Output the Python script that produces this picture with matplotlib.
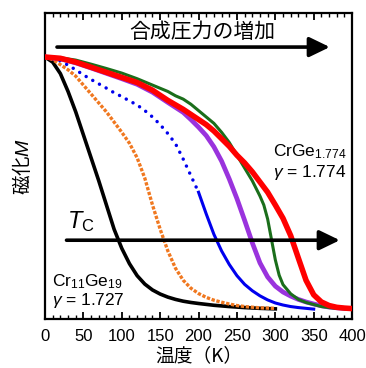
import matplotlib
matplotlib.use("Agg")
import matplotlib.pyplot as plt
import numpy as np
from matplotlib.ticker import MultipleLocator

plt.rcParams['font.family'] = ['Liberation Sans', 'Noto Sans CJK JP', 'DejaVu Sans']
plt.rcParams['mathtext.fontset'] = 'custom'
plt.rcParams['mathtext.rm'] = 'Liberation Sans'
plt.rcParams['mathtext.it'] = 'Liberation Sans:italic'
plt.rcParams['mathtext.bf'] = 'Liberation Sans:bold'

# ---- data (normalized magnetization vs temperature) ----
T_black = [0, 10, 20, 30, 40, 50, 60, 70, 80, 90, 100, 110, 120, 130, 140, 150, 160, 170, 180, 190, 200, 220, 240, 260, 280, 300]
M_black = [1.0, 0.98, 0.935, 0.865, 0.785, 0.695, 0.605, 0.515, 0.42, 0.325, 0.25, 0.19, 0.143, 0.11, 0.087, 0.071, 0.059, 0.05, 0.043, 0.038, 0.034, 0.027, 0.022, 0.018, 0.015, 0.013]

T_orange = [0, 10, 20, 30, 40, 50, 60, 70, 80, 90, 100, 110, 120, 130, 140, 150, 160, 170, 180, 190, 200, 210, 220, 230, 240, 250, 260, 280, 300]
M_orange = [1.0, 0.99, 0.97, 0.95, 0.925, 0.89, 0.855, 0.82, 0.785, 0.745, 0.705, 0.662, 0.605, 0.525, 0.42, 0.325, 0.24, 0.172, 0.125, 0.094, 0.073, 0.058, 0.047, 0.039, 0.032, 0.026, 0.022, 0.017, 0.015]

T_blue = [0, 10, 20, 30, 40, 50, 60, 70, 80, 90, 100, 110, 120, 130, 140, 150, 160, 170, 180, 190, 200, 210, 220, 230, 240, 250, 260, 270, 280, 290, 300, 310, 320, 330, 340, 350]
M_blue = [1.0, 0.995, 0.985, 0.968, 0.95, 0.93, 0.912, 0.895, 0.878, 0.86, 0.845, 0.828, 0.812, 0.79, 0.765, 0.735, 0.70, 0.66, 0.60, 0.535, 0.47, 0.385, 0.305, 0.24, 0.187, 0.143, 0.109, 0.084, 0.064, 0.048, 0.036, 0.028, 0.022, 0.018, 0.015, 0.012]
T_blue_split = 200

T_purple = [0, 20, 40, 60, 80, 100, 120, 140, 160, 180, 190, 200, 210, 220, 230, 240, 250, 260, 270, 280, 290, 300, 310, 320, 330, 340, 350, 360, 370, 380, 390]
M_purple = [1.0, 0.993, 0.977, 0.957, 0.936, 0.915, 0.893, 0.862, 0.822, 0.783, 0.755, 0.725, 0.692, 0.648, 0.592, 0.522, 0.445, 0.36, 0.272, 0.193, 0.138, 0.102, 0.079, 0.063, 0.05, 0.04, 0.032, 0.025, 0.02, 0.017, 0.015]

T_green = [0, 20, 40, 60, 80, 100, 120, 140, 160, 170, 180, 190, 200, 210, 220, 230, 240, 250, 260, 270, 280, 285, 290, 295, 300, 305, 310, 320, 330, 340, 350, 360, 370, 380, 400]
M_green = [1.0, 0.997, 0.988, 0.972, 0.955, 0.937, 0.915, 0.89, 0.865, 0.848, 0.835, 0.815, 0.79, 0.765, 0.74, 0.705, 0.665, 0.615, 0.565, 0.515, 0.455, 0.42, 0.365, 0.285, 0.205, 0.145, 0.108, 0.072, 0.05, 0.038, 0.03, 0.022, 0.018, 0.015, 0.012]

T_red = [0, 20, 40, 60, 80, 100, 120, 140, 160, 180, 200, 210, 220, 230, 240, 250, 260, 270, 280, 290, 300, 310, 320, 330, 340, 350, 360, 370, 380, 390, 400]
M_red = [1.0, 0.995, 0.98, 0.96, 0.94, 0.92, 0.90, 0.87, 0.83, 0.795, 0.755, 0.735, 0.71, 0.68, 0.65, 0.615, 0.585, 0.55, 0.51, 0.47, 0.42, 0.368, 0.3, 0.212, 0.125, 0.068, 0.04, 0.026, 0.019, 0.016, 0.014]

x_ticks = [0, 50, 100, 150, 200, 250, 300, 350, 400]

fig = plt.figure(figsize=(3.66, 3.68), dpi=100)
ax = fig.add_axes([0.123, 0.133, 0.839, 0.832])

ax.plot(T_black, M_black, color='black', lw=2.6, zorder=3)
ax.plot(T_orange, M_orange, color='#f07820', lw=2.4, ls=(0, (1.0, 0.5)), zorder=3)

Tb = np.array(T_blue); Mb = np.array(M_blue)
m1 = Tb <= T_blue_split
ax.plot(Tb[m1], Mb[m1], color='#0000ee', lw=2.5, ls=(0, (0.01, 2.2)),
        dash_capstyle='round', zorder=3)
m2 = Tb >= T_blue_split
ax.plot(Tb[m2], Mb[m2], color='#0000ee', lw=2.2, zorder=3)

ax.plot(T_purple, M_purple, color='#9a33dd', lw=3.4, zorder=3)
ax.plot(T_green, M_green, color='#1b6e1b', lw=2.2, zorder=4)
ax.plot(T_red, M_red, color='#ff0000', lw=4.0, zorder=5)

ax.set_xlim(0, 400)
ax.set_ylim(-0.027, 1.173)
ax.set_xticks(x_ticks)
ax.xaxis.set_minor_locator(MultipleLocator(10))
ax.set_yticks([])
ax.tick_params(axis='x', which='both', direction='in', top=True, bottom=True, labelsize=12, pad=7)
ax.tick_params(axis='x', which='major', length=5, width=1.3)
ax.tick_params(axis='x', which='minor', length=3, width=1.0)
for s in ax.spines.values():
    s.set_linewidth(1.6)

ax.set_xlabel('温度（K）', fontsize=13.5, family=['Noto Sans CJK JP', 'DejaVu Sans'], labelpad=1)
ax.set_ylabel('磁化$M$', fontsize=14, family=['Noto Sans CJK JP', 'DejaVu Sans'], labelpad=8)

arrow_kw = dict(arrowstyle='-|>,head_length=0.62,head_width=0.3', lw=2.6, color='black',
                mutation_scale=20, shrinkA=0, shrinkB=0)
ax.annotate('', xy=(371, 1.039), xytext=(15.6, 1.039), arrowprops=arrow_kw, zorder=6)
ax.annotate('', xy=(384, 0.282), xytext=(28, 0.282), arrowprops=arrow_kw, zorder=6)

ax.text(205, 1.098, '合成圧力の増加', fontsize=15, ha='center', va='center',
        family=['Noto Sans CJK JP', 'DejaVu Sans'])
ax.text(28, 0.33, r'$T_{\mathrm{C}}$', fontsize=17, ha='left', va='baseline')
ax.text(393, 0.61, r'CrGe$_{1.774}$', fontsize=12.5, ha='right', va='baseline')
ax.text(393, 0.53, r'$\gamma$ = 1.774', fontsize=12.5, ha='right', va='baseline')
ax.text(9, 0.10, r'Cr$_{11}$Ge$_{19}$', fontsize=12.5, ha='left', va='baseline')
ax.text(9, 0.028, r'$\gamma$ = 1.727', fontsize=12.5, ha='left', va='baseline')

fig.savefig('out.png', dpi=100)
